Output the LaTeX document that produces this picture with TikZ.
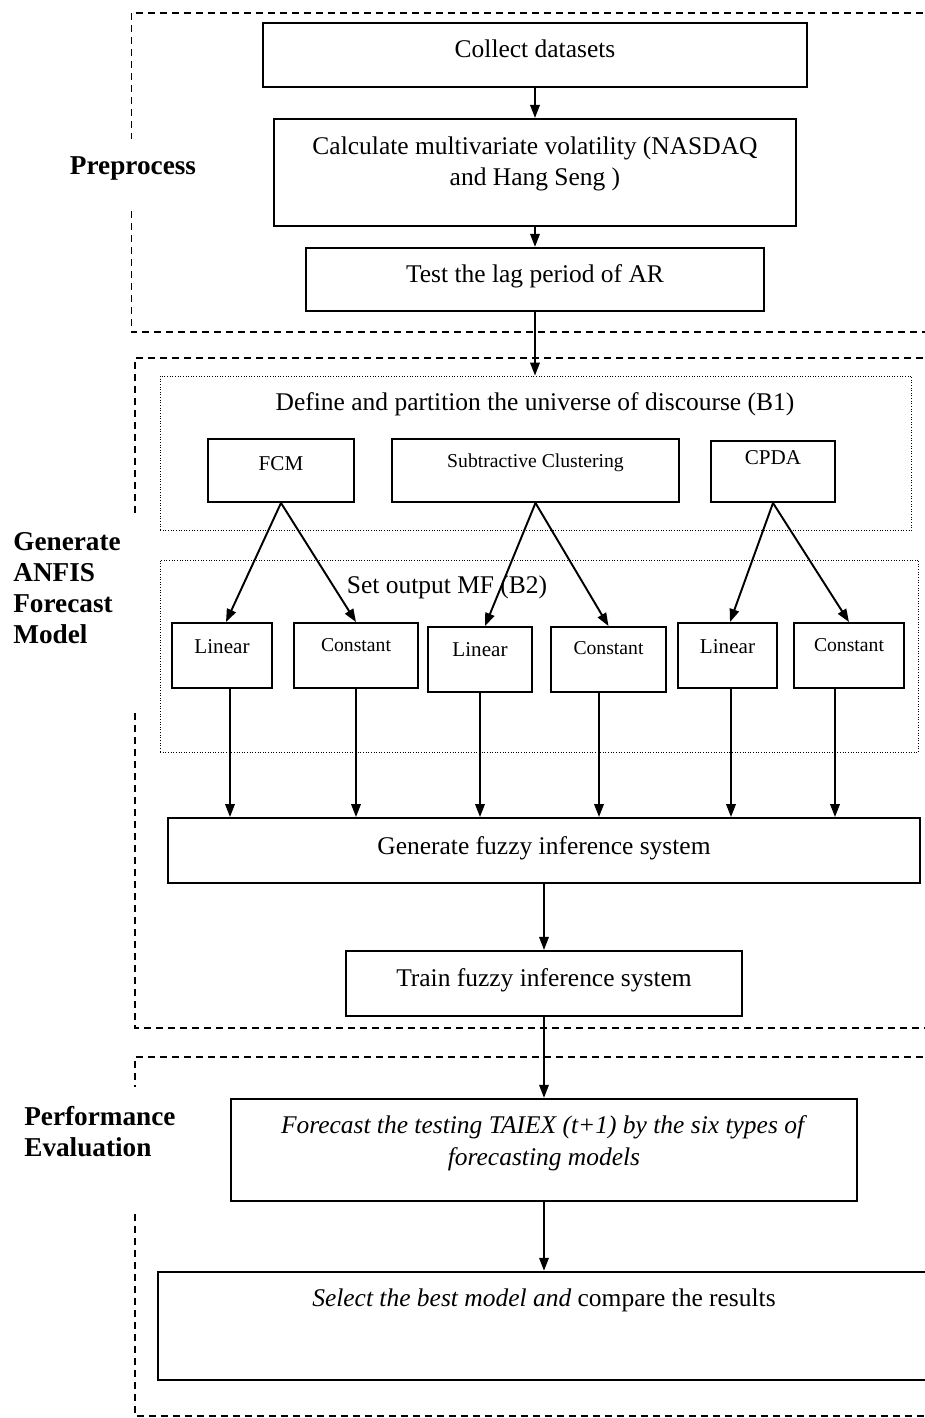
\documentclass[tikz,border=0pt]{standalone}
\usepackage{fontspec}
\setmainfont{Liberation Serif}
\usepackage{tikz}
\usetikzlibrary{positioning, arrows.meta}

\begin{document}
\begin{tikzpicture}[
    x=0.02cm, y=-0.02cm,
    stepbox/.style={rectangle, draw, line width=1.1pt, inner xsep=2pt, inner ysep=0pt,
                align=center, font=\fontsize{14.5}{18}\selectfont},
    leafbox/.style={stepbox, font=\fontsize{12}{14}\selectfont},
    constbox/.style={stepbox, font=\fontsize{11.2}{13}\selectfont},
    groupbox/.style={rectangle, draw, densely dotted, line width=0.5pt, inner sep=0pt},
    grouptitle/.style={font=\fontsize{14.5}{18}\selectfont, inner sep=0pt, anchor=base},
    frame/.style={line width=0.6pt, dash pattern=on 0.14cm off 0.1cm},
    sectlabel/.style={font=\fontsize{15.5}{17.6}\selectfont\bfseries, inner sep=0pt, align=left},
    arrow/.style={-{Triangle[length=0.26cm, width=0.19cm]}, line width=1.1pt},
  ]
    \useasboundingbox (0,0) rectangle (924,1418);

    % section frames
    \draw[frame] (935,13) -- (131.5,13) -- (131.5,139) (131.5,211) -- (131.5,332) -- (935,332);
    \draw[frame] (935,358) -- (135,358) -- (135,513) (135,713) -- (135,1028) -- (935,1028);
    \draw[frame] (935,1057) -- (135,1057) -- (135,1087) (135,1214) -- (135,1416) -- (935,1416);

    % section labels
    \node[sectlabel, anchor=base] (prep) at (133,174) {Preprocess};
    \node[sectlabel, anchor=north west] (genlbl) at (13,532) {Generate\\ANFIS\\Forecast\\Model};
    \node[sectlabel, anchor=north west] (perf) at (24,1106) {Performance\\Evaluation};

    % Preprocess
    \node[stepbox, minimum width=10.88cm, text height=0.68cm, text depth=0.6cm] (collect) at (535,55) {Collect datasets};
    \node[stepbox, minimum width=10.44cm, text height=1.335cm, text depth=0.805cm, below=0.6cm of collect] (calc)
        {Calculate multivariate volatility (NASDAQ\\and Hang Seng )};
    \node[stepbox, minimum width=9.18cm, text height=0.70cm, text depth=0.56cm, below=0.4cm of calc] (lagtest)
        {Test the lag period of AR};

    % B1
    \node[groupbox, minimum width=15.04cm, minimum height=3.08cm] (b1) at (536,453) {};
    \node[grouptitle] (b1title) at (535,410) {Define and partition the universe of discourse (B1)};
    \node[leafbox, minimum width=2.92cm, text height=0.62cm, text depth=0.64cm] (fcm) at (281,470.5) {FCM};
    \node[constbox, minimum width=5.74cm, text height=0.56cm, text depth=0.70cm] (subclust) at (535.5,470.5) {Subtractive Clustering};
    \node[leafbox, minimum width=2.48cm, text height=0.46cm, text depth=0.76cm] (cpda) at (773,471.5) {CPDA};

    % B2
    \node[groupbox, minimum width=15.18cm, minimum height=3.84cm] (b2) at (539.5,656) {};
    \node[grouptitle] (b2title) at (447,593) {Set output MF (B2)};
    \node[leafbox, minimum width=2.0cm, text height=0.61cm, text depth=0.69cm] (lin1) at (222,655.5) {Linear};
    \node[constbox, minimum width=2.48cm, text height=0.57cm, text depth=0.73cm] (con1) at (356,655.5) {Constant};
    \node[leafbox, minimum width=2.08cm, text height=0.59cm, text depth=0.71cm] (lin2) at (480,659.5) {Linear};
    \node[constbox, minimum width=2.30cm, text height=0.55cm, text depth=0.75cm] (con2) at (608.5,659.5) {Constant};
    \node[leafbox, minimum width=1.98cm, text height=0.61cm, text depth=0.69cm] (lin3) at (727.5,655.5) {Linear};
    \node[constbox, minimum width=2.20cm, text height=0.57cm, text depth=0.73cm] (con3) at (849,655.5) {Constant};

    % FIS
    \node[stepbox, minimum width=15.04cm, text height=0.72cm, text depth=0.58cm] (gen) at (544,850.5)
        {Generate fuzzy inference system};
    \node[stepbox, minimum width=7.94cm, text height=0.72cm, text depth=0.58cm, below=1.32cm of gen] (train)
        {Train fuzzy inference system};

    % Performance Evaluation
    \node[stepbox, minimum width=12.52cm, text height=1.335cm, text depth=0.705cm, below=1.62cm of train] (forecast)
        {\textit{Forecast the testing TAIEX (t+1) by the six types of}\\\textit{forecasting models}};
    \node[stepbox, minimum width=15.44cm, text height=0.70cm, text depth=1.46cm, below=1.38cm of forecast] (select)
        {\textit{Select the best model and} compare the results};

    \draw[arrow] (collect) -- (calc);
    \draw[arrow] (calc) -- (lagtest);
    \draw[arrow] (lagtest) -- (lagtest |- b1.north);
    \draw[arrow] (fcm.south) -- ([xshift=0.08cm]lin1.north);
    \draw[arrow] (fcm.south) -- (con1.north);
    \draw[arrow] (subclust.south) -- ([xshift=0.1cm]lin2.north);
    \draw[arrow] (subclust.south) -- (con2.north);
    \draw[arrow] (cpda.south) -- ([xshift=0.05cm]lin3.north);
    \draw[arrow] (cpda.south) -- (con3.north);
    \draw[arrow] ([xshift=0.16cm]lin1.south) -- ([xshift=0.16cm]lin1.south |- gen.north);
    \draw[arrow] (con1.south) -- (con1.south |- gen.north);
    \draw[arrow] (lin2.south) -- (lin2.south |- gen.north);
    \draw[arrow] ([xshift=-0.19cm]con2.south) -- ([xshift=-0.19cm]con2.south |- gen.north);
    \draw[arrow] ([xshift=0.07cm]lin3.south) -- ([xshift=0.07cm]lin3.south |- gen.north);
    \draw[arrow] ([xshift=-0.28cm]con3.south) -- ([xshift=-0.28cm]con3.south |- gen.north);
    \draw[arrow] (gen) -- (train);
    \draw[arrow] (train) -- (forecast);
    \draw[arrow] (forecast) -- (select);
  \end{tikzpicture}
\end{document}
